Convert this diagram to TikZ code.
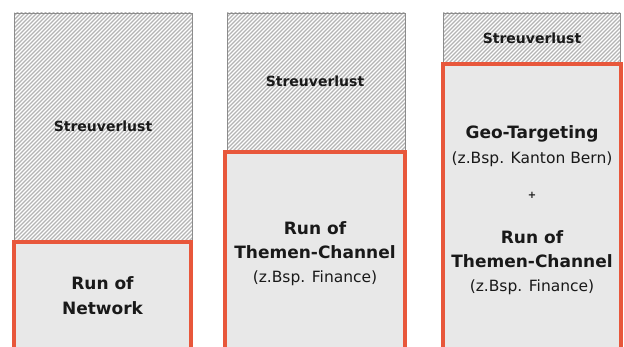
\documentclass[tikz,border=0pt]{standalone}
\usepackage{fontspec}
\setmainfont{DejaVu Sans}
\definecolor{redline}{HTML}{E8573B}
\definecolor{boxfill}{HTML}{E8E8E8}
\definecolor{hatchline}{HTML}{B4B4B4}
\definecolor{hatchborder}{HTML}{8C8C8C}
\tikzset{
  redbox/.style={draw=redline, fill=boxfill, line width=4pt},
  hatchframe/.style={draw=hatchborder, line width=0.8pt},
  hatchstroke/.style={draw=hatchline, line width=1.1pt},
  big/.style={anchor=base, font=\fontsize{17}{20}\selectfont\bfseries, text=black!90, inner sep=0pt},
  small/.style={anchor=base, font=\fontsize{15.5}{18}\selectfont, text=black!90, inner sep=0pt},
  loss/.style={anchor=base, font=\fontsize{14}{17}\selectfont\bfseries, text=black!90, inner sep=0pt},
  plus/.style={anchor=center, font=\fontsize{10}{12}\selectfont\bfseries, text=black!90, inner sep=0pt},
}
\newcommand{\hatchrect}[4]{%
  \begin{scope}
    \clip (#1,#2) rectangle (#3,#4);
    \fill[white] (#1,#2) rectangle (#3,#4);
    \foreach \k in {-360,-356,...,640} {\draw[hatchstroke] (\k,#2-2) -- ++(360,360);}
  \end{scope}
  \draw[hatchframe] (#1,#2) rectangle (#3,#4);
}
\begin{document}
\begin{tikzpicture}[x=1pt,y=1pt]
\useasboundingbox (0,0) rectangle (624,347);
\clip (0,0) rectangle (624,347);
\fill[white] (0,0) rectangle (624,347);

% column 1
\hatchrect{14}{107}{192}{334}
\draw[redbox] (14,-10) rectangle (191,105);
\node[loss] (l1) at (103,215) {Streuverlust};
\node[big] (a1) at (102.5,57) {Run of};
\node[big] (b1) at (102.5,32.5) {Network};

% column 2
\hatchrect{227}{197}{405}{334}
\draw[redbox] (225,-10) rectangle (405,195);
\node[loss] (l2) at (315,260) {Streuverlust};
\node[big] (a2) at (315,112) {Run of};
\node[big] (b2) at (315,88.5) {Themen-Channel};
\node[small] (c2) at (315,64.5) {(z.Bsp. Finance)};

% column 3
\hatchrect{443}{285}{620}{334}
\draw[redbox] (443,-10) rectangle (621,283);
\node[loss] (l3) at (532,303) {Streuverlust};
\node[big] (g3) at (532,208) {Geo-Targeting};
\node[small] (k3) at (532,183.5) {(z.Bsp. Kanton Bern)};
\node[plus] (p3) at (532,152) {+};
\node[big] (a3) at (532,103) {Run of};
\node[big] (b3) at (532,79) {Themen-Channel};
\node[small] (c3) at (532,55) {(z.Bsp. Finance)};
\end{tikzpicture}
\end{document}
